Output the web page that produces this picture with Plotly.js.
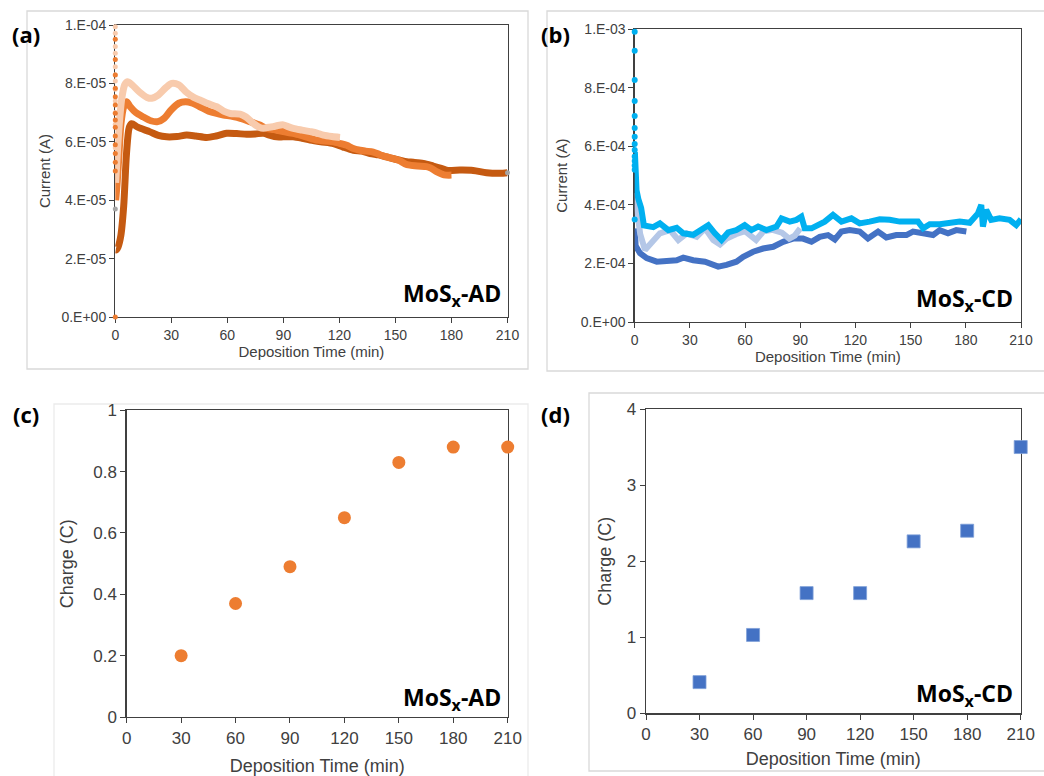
<!DOCTYPE html>
<html>
<head>
<meta charset="utf-8">
<script src="https://cdn.plot.ly/plotly-3.0.1.min.js"></script>
<style>html,body{margin:0;padding:0;background:#fff;}#chart{width:1044px;height:776px;}</style>
</head>
<body>
<div id="chart"></div>
<script>
// ---------- Panel (a): MoSx-AD current (A) vs deposition time (min) ----------
const adDarkTime = [0.2,0.6,1.5,3,4.5,6,7.5,8.8,12,18.6,23,27.5,33,38.2,43,48.9,54,59.6,65,70.3,75,79.3,83,86.4,90,95.3,100,104.3,110,116.8,122,127.5,132,136.4,141,145.3,149,152.4,156,159.6,164.9,170.2,174,177.3,180,184.5,191.6,198.8,205.9,210];
const adDarkCurrent = [2.3e-5,2.3e-5,2.4e-5,2.8e-5,3.8e-5,5.6e-5,6.5e-5,6.62e-5,6.5e-5,6.34e-5,6.22e-5,6.17e-5,6.18e-5,6.23e-5,6.2e-5,6.15e-5,6.2e-5,6.29e-5,6.28e-5,6.26e-5,6.27e-5,6.29e-5,6.22e-5,6.17e-5,6.17e-5,6.17e-5,6.12e-5,6.06e-5,6.0e-5,5.94e-5,5.82e-5,5.71e-5,5.68e-5,5.6e-5,5.55e-5,5.48e-5,5.42e-5,5.37e-5,5.32e-5,5.3e-5,5.26e-5,5.17e-5,5.1e-5,5.03e-5,5.02e-5,5.03e-5,5.02e-5,4.94e-5,4.92e-5,4.94e-5];

const adMidTime = [0.2,1,2,3,4.5,6,8,11,15,19,22.7,26,30,34,37.6,41,45.3,50,54.3,58,63.2,67,72.1,77,81,85,90,94,98.9,103,107.8,112,116.8,120,123.9,127,131,134,138.1,142,145.3,149,152.4,155,157.8,162,166.7,169,172,176,180];
const adMidCurrent = [4.0e-5,4.6e-5,5.6e-5,6.6e-5,7.2e-5,7.37e-5,7.2e-5,7.0e-5,6.85e-5,6.72e-5,6.69e-5,6.8e-5,7.1e-5,7.32e-5,7.37e-5,7.33e-5,7.2e-5,7.05e-5,6.97e-5,6.92e-5,6.86e-5,6.8e-5,6.69e-5,6.58e-5,6.46e-5,6.42e-5,6.35e-5,6.3e-5,6.23e-5,6.15e-5,6.06e-5,6.03e-5,6.0e-5,5.95e-5,5.88e-5,5.78e-5,5.71e-5,5.68e-5,5.65e-5,5.55e-5,5.48e-5,5.42e-5,5.35e-5,5.25e-5,5.2e-5,5.17e-5,5.15e-5,5.1e-5,4.98e-5,4.87e-5,4.86e-5];

const adLightTime = [0.2,1,2,3.5,5,6.5,9,13,17,19.5,23,27,30.2,34,38,42,45.3,50,54.3,58,61.5,66.8,70,73.9,77,79.3,82,84.6,87,90,92.5,95.3,100,104.3,108,111.4,116,120.3];
const adLightCurrent = [4.6e-5,5.5e-5,6.5e-5,7.5e-5,7.95e-5,8.06e-5,7.95e-5,7.7e-5,7.52e-5,7.49e-5,7.6e-5,7.85e-5,8.0e-5,7.95e-5,7.7e-5,7.52e-5,7.43e-5,7.3e-5,7.2e-5,7.05e-5,6.97e-5,6.95e-5,6.85e-5,6.63e-5,6.5e-5,6.46e-5,6.5e-5,6.52e-5,6.56e-5,6.58e-5,6.52e-5,6.46e-5,6.4e-5,6.35e-5,6.3e-5,6.23e-5,6.18e-5,6.15e-5];

// initial spike readings at t = 0
const adMidSpikeTime = [0,0,0,0,0,0,0,0,0,0,0,0,0,0,0];
const adMidSpikeCurrent = [9.51e-5,8.82e-5,8.29e-5,7.83e-5,7.54e-5,7.26e-5,6.98e-5,6.75e-5,6.5e-5,6.2e-5,5.9e-5,5.6e-5,5.3e-5,5.0e-5,0];
const adLightSpikeTime = [0,0,0,0,0,0,0,0,0,0,0,0,0];
const adLightSpikeCurrent = [9.94e-5,9.72e-5,9.26e-5,9.03e-5,8.57e-5,8.3e-5,8.08e-5,7.8e-5,7.4e-5,7.0e-5,6.6e-5,6.2e-5,5.8e-5];
const adGreyTime = [0,210];
const adGreyCurrent = [3.7e-5,4.94e-5];

// ---------- Panel (b): MoSx-CD current (A) ----------
const cdCyanTime = [0.1,0.5,1,2,3.5,5,10.1,13.7,18.3,22.8,26.4,31.8,36.4,40,43.6,47.2,50.8,55.3,59.8,63.5,67.1,71.6,77.1,79.8,84.3,87.9,90.6,92.4,96.1,99.7,103.3,107.8,112.4,117.8,122.3,127.7,133.2,138.6,144.1,149.5,154,156.8,160.4,165.8,171.2,176.7,182.1,186.6,188.4,189.3,191.1,193.8,198.3,203.8,207.4,210];
const cdCyanCurrent = [5.8e-4,5.0e-4,4.5e-4,4.2e-4,3.9e-4,3.3e-4,3.24e-4,3.37e-4,3.14e-4,3.22e-4,3.03e-4,2.98e-4,3.14e-4,3.31e-4,3.03e-4,2.8e-4,3.06e-4,3.14e-4,3.31e-4,3.14e-4,3.26e-4,3.14e-4,3.26e-4,3.54e-4,3.43e-4,3.49e-4,3.6e-4,3.2e-4,3.2e-4,3.31e-4,3.43e-4,3.66e-4,3.43e-4,3.54e-4,3.37e-4,3.43e-4,3.51e-4,3.49e-4,3.43e-4,3.43e-4,3.43e-4,3.2e-4,3.34e-4,3.34e-4,3.39e-4,3.43e-4,3.39e-4,3.71e-4,4.0e-4,3.26e-4,3.83e-4,3.49e-4,3.54e-4,3.49e-4,3.31e-4,3.51e-4];

const cdLightTime = [0.1,1,3,5.6,9,13.7,19.2,23.7,28.3,33.7,38.2,42.7,46.4,50,55,60,63,66,70,75,80,84,87,90];
const cdLightCurrent = [4.4e-4,3.9e-4,3.0e-4,2.46e-4,2.7e-4,3.03e-4,3.14e-4,2.8e-4,3.03e-4,2.91e-4,3.2e-4,2.8e-4,2.65e-4,2.85e-4,3.0e-4,3.1e-4,2.95e-4,2.8e-4,3.1e-4,3.15e-4,3.05e-4,2.85e-4,2.95e-4,3.2e-4];

const cdDarkTime = [0.1,0.5,2.9,6.5,12,17.4,22.8,26.4,31.8,38.2,41.8,45.4,49.9,55.3,59,64.4,69.8,75.3,80.7,86.1,91.5,96.1,100.6,105.1,108.8,112.4,116.9,122.3,126.8,132.3,136.8,142.2,147.7,151.3,156.8,162.2,165.8,170.3,174.8,180.3];
const cdDarkCurrent = [3.2e-4,2.6e-4,2.35e-4,2.18e-4,2.06e-4,2.06e-4,2.11e-4,2.2e-4,2.11e-4,2.06e-4,2.0e-4,1.89e-4,1.95e-4,2.06e-4,2.23e-4,2.4e-4,2.51e-4,2.57e-4,2.74e-4,2.85e-4,2.85e-4,2.74e-4,2.91e-4,2.97e-4,2.82e-4,3.09e-4,3.14e-4,3.09e-4,2.85e-4,3.09e-4,2.89e-4,2.97e-4,2.97e-4,3.09e-4,3.03e-4,2.97e-4,3.14e-4,3.03e-4,3.14e-4,3.09e-4];

const cdCyanSpikeTime = [0,0,0,0,0,0,0,0,0,0,0,0,0,0];
const cdCyanSpikeCurrent = [9.92e-4,9.27e-4,8.27e-4,7.55e-4,7.04e-4,6.63e-4,6.33e-4,6.08e-4,5.88e-4,5.65e-4,5.5e-4,5.35e-4,5.2e-4,3.5e-4];

// ---------- Panels (c) and (d): charge (C) ----------
const chargeTime = [30,60,90,120,150,180,210];
const chargeAD = [0.2,0.37,0.49,0.65,0.83,0.88,0.88];
const chargeCD = [0.41,1.03,1.58,1.58,2.26,2.40,3.50];

// ---------- Tick labels ----------
const timeTicks = [0,30,60,90,120,150,180,210];
const adCurrentTickVals = [0,2e-5,4e-5,6e-5,8e-5,1e-4];
const adCurrentTickText = ["0.E+00","2.E-05","4.E-05","6.E-05","8.E-05","1.E-04"];
const cdCurrentTickVals = [0,2e-4,4e-4,6e-4,8e-4,1e-3];
const cdCurrentTickText = ["0.E+00","2.E-04","4.E-04","6.E-04","8.E-04","1.E-03"];
const adChargeTicks = [0,0.2,0.4,0.6,0.8,1];
const adChargeTickText = ["0","0.2","0.4","0.6","0.8","1"];
const cdChargeTicks = [0,1,2,3,4];

// ---------- Build ----------
const W = 1044, H = 776;
const fx = p => p / W;
const fy = p => 1 - p / H;

const TXT = '#404040';
const AX = '#404040';
const FONT = 'Liberation Sans, Arial, sans-serif';

function axis(opts) {
  return Object.assign({
    showline: true, mirror: true, linecolor: AX, linewidth: 1.3,
    ticks: 'outside', ticklen: 5, tickwidth: 1, tickcolor: AX,
    showgrid: false, zeroline: false, fixedrange: true, layer: 'below traces',
    tickfont: {family: FONT, size: 14, color: TXT}
  }, opts);
}

const traces = [
  // (a)
  {x: adDarkTime, y: adDarkCurrent, xaxis: 'x', yaxis: 'y', mode: 'lines', line: {color: '#C55A11', width: 7, shape: 'spline', smoothing: 0.8}, cliponaxis: false},
  {x: adMidTime, y: adMidCurrent, xaxis: 'x', yaxis: 'y', mode: 'lines', line: {color: '#ED7D31', width: 7, shape: 'spline', smoothing: 0.8}, cliponaxis: false},
  {x: adLightTime, y: adLightCurrent, xaxis: 'x', yaxis: 'y', mode: 'lines', line: {color: '#F8CBAD', width: 7, shape: 'spline', smoothing: 0.8}, cliponaxis: false},
  {x: adLightSpikeTime, y: adLightSpikeCurrent, xaxis: 'x', yaxis: 'y', mode: 'markers', marker: {color: '#F8CBAD', size: 5}, cliponaxis: false},
  {x: adMidSpikeTime, y: adMidSpikeCurrent, xaxis: 'x', yaxis: 'y', mode: 'markers', marker: {color: '#ED7D31', size: 5}, cliponaxis: false},
  {x: adGreyTime, y: adGreyCurrent, xaxis: 'x', yaxis: 'y', mode: 'markers', marker: {color: '#A5A5A5', size: 5}, cliponaxis: false},
  // (b)
  {x: cdDarkTime, y: cdDarkCurrent, xaxis: 'x2', yaxis: 'y2', mode: 'lines', line: {color: '#4472C4', width: 6}, cliponaxis: false},
  {x: cdLightTime, y: cdLightCurrent, xaxis: 'x2', yaxis: 'y2', mode: 'lines', line: {color: '#B4C7E7', width: 6}, cliponaxis: false},
  {x: cdCyanTime, y: cdCyanCurrent, xaxis: 'x2', yaxis: 'y2', mode: 'lines', line: {color: '#00B0F0', width: 6}, cliponaxis: false},
  {x: cdCyanSpikeTime, y: cdCyanSpikeCurrent, xaxis: 'x2', yaxis: 'y2', mode: 'markers', marker: {color: '#00B0F0', size: 6}, cliponaxis: false},
  // (c)
  {x: chargeTime, y: chargeAD, xaxis: 'x3', yaxis: 'y3', mode: 'markers', marker: {color: '#ED7D31', size: 13, symbol: 'circle'}, cliponaxis: false},
  // (d)
  {x: chargeTime, y: chargeCD, xaxis: 'x4', yaxis: 'y4', mode: 'markers', marker: {color: '#4472C4', size: 13, symbol: 'square', line: {color: '#7F9FD8', width: 0.8}}, cliponaxis: false}
];

const xTitle = (size, standoff) => ({text: 'Deposition Time (min)', font: {family: FONT, size: size, color: TXT}, standoff: standoff});
const yTitle = (t, size, standoff) => ({text: t, font: {family: FONT, size: size, color: TXT}, standoff: standoff});

const LBL = {family: 'Open Sans, sans-serif', size: 22, color: '#000'};
const TAG = {family: 'Open Sans, sans-serif', size: 23, color: '#000'};

const layout = {
  width: W, height: H,
  margin: {l: 0, r: 0, t: 0, b: 0, pad: 0},
  paper_bgcolor: '#ffffff', plot_bgcolor: '#ffffff',
  showlegend: false,
  xaxis: axis({domain: [fx(115.3), fx(507.5)], range: [0, 210], tickvals: timeTicks, anchor: 'y', title: xTitle(15, 4)}),
  yaxis: axis({domain: [fy(317), fy(25)], range: [0, 1e-4], tickvals: adCurrentTickVals, ticktext: adCurrentTickText, anchor: 'x', title: yTitle('Current (A)', 15, 7)}),
  xaxis2: axis({domain: [fx(634.7), fx(1021)], range: [0, 210], tickvals: timeTicks, anchor: 'y2', title: xTitle(15, 4)}),
  yaxis2: axis({domain: [fy(322), fy(29.3)], range: [0, 1e-3], tickvals: cdCurrentTickVals, ticktext: cdCurrentTickText, anchor: 'x2', title: yTitle('Current (A)', 15, 9)}),
  xaxis3: axis({domain: [fx(126.7), fx(507.7)], range: [0, 210], tickvals: timeTicks, anchor: 'y3', tickfont: {family: FONT, size: 17, color: TXT}, title: xTitle(18, 13)}),
  yaxis3: axis({domain: [fy(717), fy(410.3)], range: [0, 1], tickvals: adChargeTicks, ticktext: adChargeTickText, anchor: 'x3', tickfont: {family: FONT, size: 17, color: TXT}, title: yTitle('Charge (C)', 18, 15)}),
  xaxis4: axis({domain: [fx(646), fx(1020.7)], range: [0, 210], tickvals: timeTicks, anchor: 'y4', tickfont: {family: FONT, size: 17, color: TXT}, title: xTitle(18, 9)}),
  yaxis4: axis({domain: [fy(713.3), fy(409)], range: [0, 4], tickvals: cdChargeTicks, anchor: 'x4', tickfont: {family: FONT, size: 17, color: TXT}, title: yTitle('Charge (C)', 18, 10)}),
  shapes: [
    {type: 'rect', xref: 'paper', yref: 'paper', x0: fx(27), x1: fx(528), y0: fy(369), y1: fy(11), line: {color: '#D9D9D9', width: 1.3}, layer: 'below'},
    {type: 'rect', xref: 'paper', yref: 'paper', x0: fx(547), x1: fx(1050), y0: fy(371), y1: fy(11), line: {color: '#D9D9D9', width: 1.3}, layer: 'below'},
    {type: 'rect', xref: 'paper', yref: 'paper', x0: fx(54), x1: fx(528), y0: fy(790), y1: fy(404), line: {color: '#EBEBEB', width: 1.3}, layer: 'below'},
    {type: 'rect', xref: 'paper', yref: 'paper', x0: fx(589), x1: fx(1050), y0: fy(771), y1: fy(393), line: {color: '#D9D9D9', width: 1.3}, layer: 'below'}
  ],
  annotations: [
    {text: '<b>(a)</b>', xref: 'paper', yref: 'paper', x: fx(26), y: fy(34), xanchor: 'center', yanchor: 'middle', showarrow: false, font: LBL},
    {text: '<b>(b)</b>', xref: 'paper', yref: 'paper', x: fx(555), y: fy(34), xanchor: 'center', yanchor: 'middle', showarrow: false, font: LBL},
    {text: '<b>(c)</b>', xref: 'paper', yref: 'paper', x: fx(26), y: fy(414), xanchor: 'center', yanchor: 'middle', showarrow: false, font: LBL},
    {text: '<b>(d)</b>', xref: 'paper', yref: 'paper', x: fx(555), y: fy(414), xanchor: 'center', yanchor: 'middle', showarrow: false, font: LBL},
    {text: '<b>MoS<sub>x</sub>-AD</b>', xref: 'paper', yref: 'paper', x: fx(503), y: fy(294), xanchor: 'right', yanchor: 'middle', showarrow: false, font: TAG},
    {text: '<b>MoS<sub>x</sub>-CD</b>', xref: 'paper', yref: 'paper', x: fx(1015), y: fy(300), xanchor: 'right', yanchor: 'middle', showarrow: false, font: TAG},
    {text: '<b>MoS<sub>x</sub>-AD</b>', xref: 'paper', yref: 'paper', x: fx(503), y: fy(698), xanchor: 'right', yanchor: 'middle', showarrow: false, font: TAG},
    {text: '<b>MoS<sub>x</sub>-CD</b>', xref: 'paper', yref: 'paper', x: fx(1015), y: fy(694), xanchor: 'right', yanchor: 'middle', showarrow: false, font: TAG}
  ]
};

Plotly.newPlot('chart', traces, layout, {displayModeBar: false, staticPlot: true});
</script>
</body>
</html>
